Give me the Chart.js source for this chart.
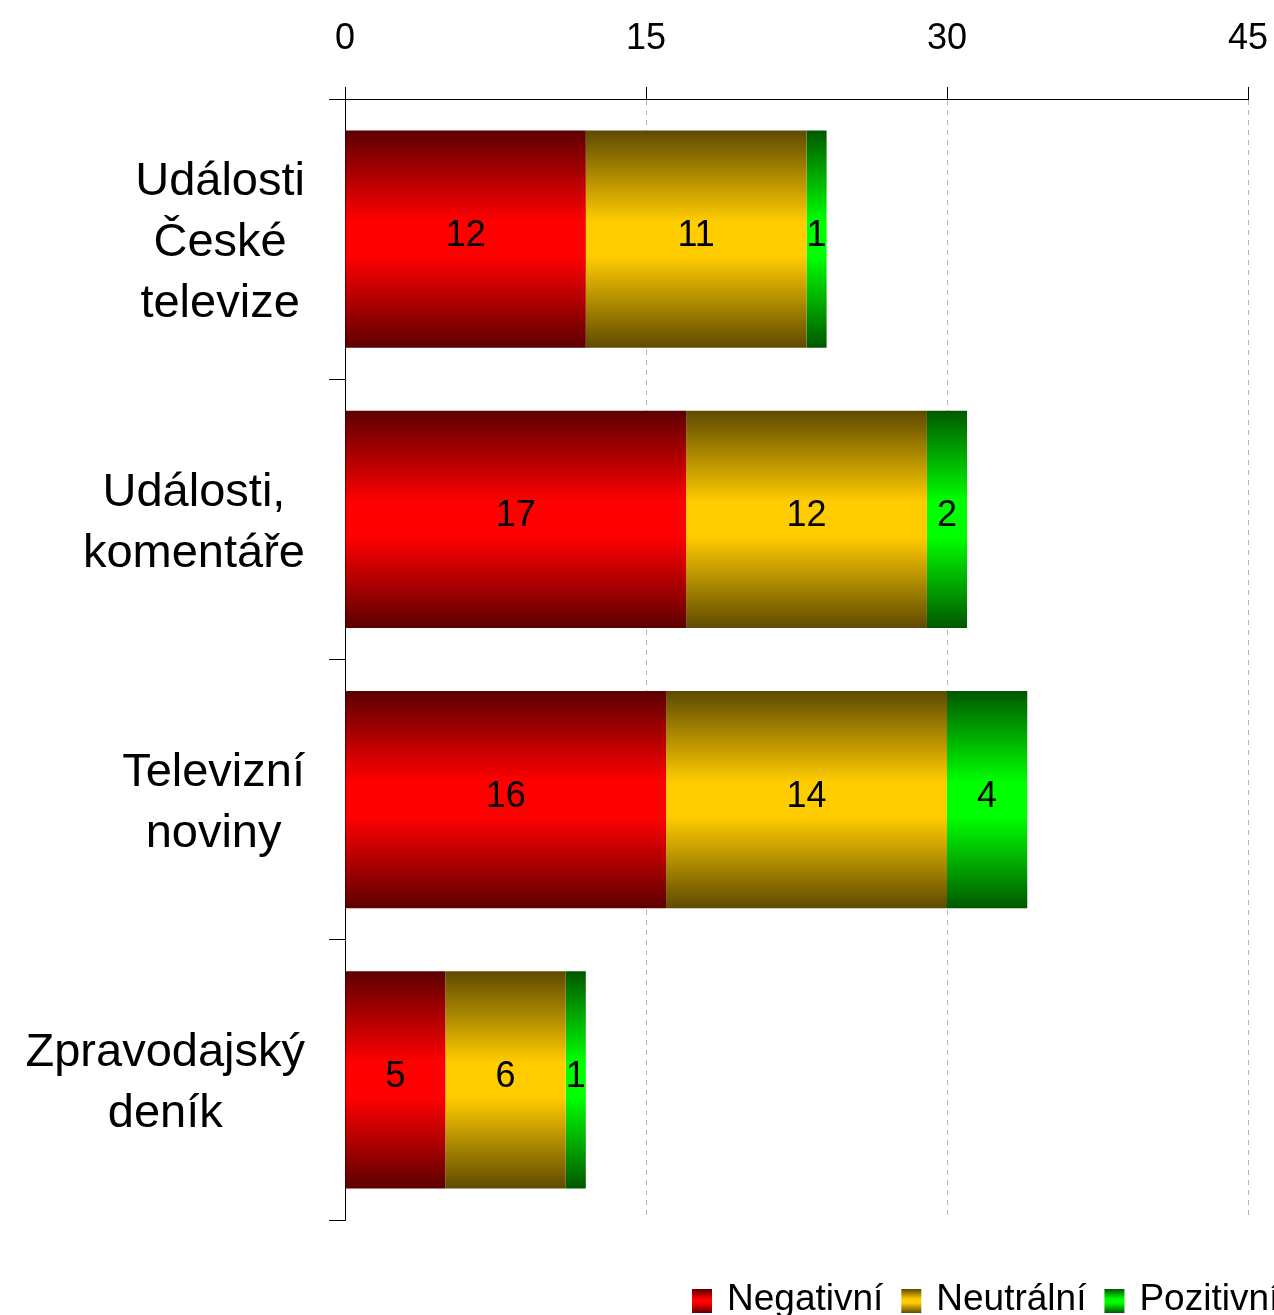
<!DOCTYPE html>
<html>
<head>
<meta charset="utf-8">
<script src="https://cdn.jsdelivr.net/npm/chart.js@4.4.0/dist/chart.umd.min.js"></script>
<style>
html, body { margin: 0; padding: 0; background: #fff; overflow: hidden; }
#wrap { width: 1274px; height: 1315px; }
</style>
</head>
<body>
<div id="wrap"><canvas id="chart"></canvas></div>
<script>
const categories = [['Události', 'České', 'televize'], ['Události,', 'komentáře'], ['Televizní', 'noviny'], ['Zpravodajský', 'deník']];
const negativni = [12, 17, 16, 5];
const neutralni = [11, 12, 14, 6];
const pozitivni = [1, 2, 4, 1];
const seriesNames = ['Negativní', 'Neutrální', 'Pozitivní'];
const xMax = 45;
const xStep = 15;

const FONT = "'Liberation Sans', Arial, sans-serif";
const BAR_PCT = 0.775;
// dark edge / bright middle for each series
const shades = [
    ['#5c0000', '#ff0000'],
    ['#5e4a00', '#ffcc00'],
    ['#005800', '#00ff00']
];

function makeGradient(ctx, top, bottom, pair) {
    const g = ctx.createLinearGradient(0, top, 0, bottom);
    g.addColorStop(0, pair[0]);
    g.addColorStop(0.42, pair[1]);
    g.addColorStop(0.58, pair[1]);
    g.addColorStop(1, pair[0]);
    return g;
}

function barFill(c, k) {
    const chart = c.chart;
    const yScale = chart.scales.y;
    if (c.type !== 'data' || !chart.chartArea || !yScale) return shades[k][1];
    const center = yScale.getPixelForValue(c.dataIndex);
    const half = yScale.height / categories.length * BAR_PCT / 2;
    return makeGradient(chart.ctx, center - half, center + half, shades[k]);
}

// numbers in the middle of each segment
const barValues = {
    id: 'barValues',
    afterDatasetsDraw(chart) {
        const ctx = chart.ctx;
        ctx.save();
        ctx.font = '36px ' + FONT;
        ctx.fillStyle = '#000';
        ctx.textAlign = 'center';
        ctx.textBaseline = 'middle';
        chart.data.datasets.forEach((ds, i) => {
            chart.getDatasetMeta(i).data.forEach((bar, j) => {
                const p = bar.getProps(['x', 'y', 'base'], true);
                ctx.fillText(String(ds.data[j]), (p.x + p.base) / 2, p.y - 3);
            });
        });
        ctx.restore();
    }
};

// category names: block right aligned, lines centered inside it
const catLabels = {
    id: 'catLabels',
    afterDraw(chart) {
        const ctx = chart.ctx;
        const yScale = chart.scales.y;
        ctx.save();
        ctx.font = '47px ' + FONT;
        ctx.fillStyle = '#000';
        ctx.textAlign = 'center';
        ctx.textBaseline = 'middle';
        categories.forEach((lines, i) => {
            const w = Math.max(...lines.map(l => ctx.measureText(l).width));
            const cx = yScale.right - 40 - w / 2;
            const cy = yScale.getPixelForValue(i) + 4;
            lines.forEach((l, k) => {
                ctx.fillText(l, cx, cy + (k - (lines.length - 1) / 2) * 61);
            });
        });
        ctx.restore();
    }
};

// legend at the bottom, runs off the right edge like the original
const bottomLegend = {
    id: 'bottomLegend',
    afterDraw(chart) {
        const ctx = chart.ctx;
        ctx.save();
        ctx.font = '37px ' + FONT;
        ctx.fillStyle = '#000';
        ctx.textBaseline = 'alphabetic';
        let x = 692;
        const boxTop = 1289, boxH = 24;
        seriesNames.forEach((name, k) => {
            ctx.fillStyle = makeGradient(ctx, boxTop, boxTop + boxH, shades[k]);
            ctx.fillRect(x, boxTop, 20, boxH);
            ctx.fillStyle = '#000';
            ctx.fillText(name, x + 35, 1310);
            x += 35 + ctx.measureText(name).width + 18;
        });
        ctx.restore();
    }
};

const ctx = document.getElementById('chart').getContext('2d');
new Chart(ctx, {
    type: 'bar',
    data: {
        labels: categories,
        datasets: [
            {label: seriesNames[0], data: negativni, backgroundColor: c => barFill(c, 0)},
            {label: seriesNames[1], data: neutralni, backgroundColor: c => barFill(c, 1)},
            {label: seriesNames[2], data: pozitivni, backgroundColor: c => barFill(c, 2)}
        ]
    },
    options: {
        indexAxis: 'y',
        responsive: true,
        maintainAspectRatio: false,
        animation: false,
        borderWidth: 0,
        layout: {padding: {top: 0, right: 26, bottom: 95, left: 0}},
        datasets: {bar: {barPercentage: BAR_PCT, categoryPercentage: 1}},
        scales: {
            x: {
                position: 'top',
                stacked: true,
                min: 0,
                max: xMax,
                afterFit: s => { s.height = 99; s.paddingLeft = 0; s.paddingRight = 0; },
                ticks: {stepSize: xStep, color: '#000', font: {family: FONT, size: 36}, padding: 26},
                grid: {
                    color: c => c.index === 0 ? 'rgba(0,0,0,0)' : '#b4b4b4',
                    tickColor: '#000',
                    tickLength: 12,
                    lineWidth: 1
                },
                border: {color: '#000', width: 1, dash: [5, 5]}
            },
            y: {
                stacked: true,
                afterFit: s => { s.width = 345; },
                ticks: {display: false},
                grid: {drawOnChartArea: false, color: '#000', tickLength: 16, offset: true},
                border: {color: '#000', width: 1}
            }
        },
        plugins: {
            legend: {display: false},
            tooltip: {enabled: false}
        }
    },
    plugins: [barValues, catLabels, bottomLegend]
});
</script>
</body>
</html>
